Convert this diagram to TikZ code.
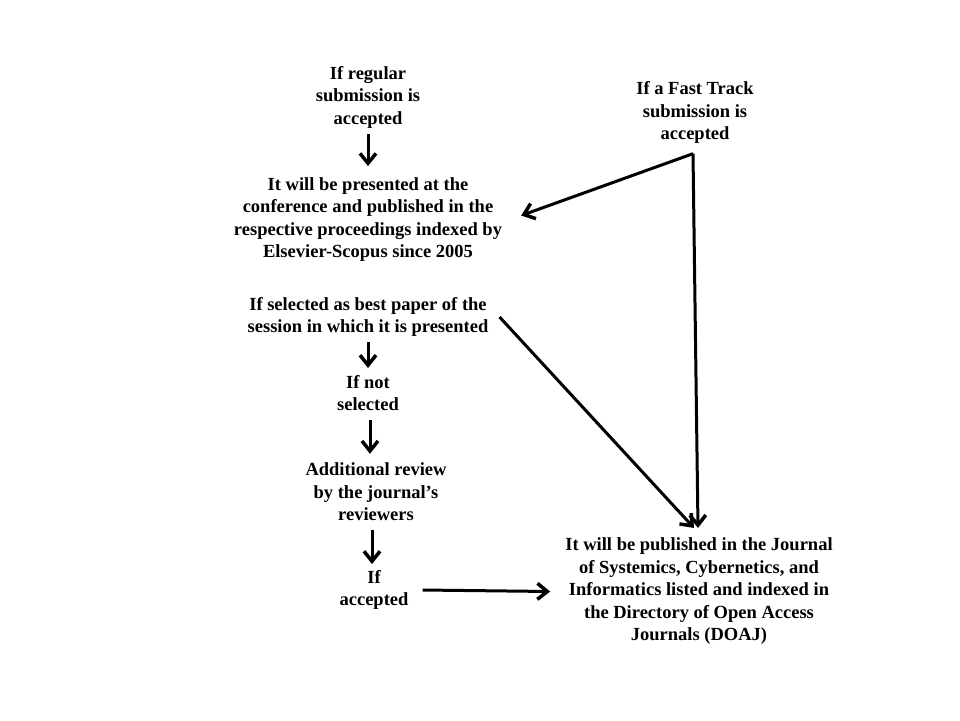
\documentclass[tikz,border=0pt]{standalone}
\usepackage{fontspec}
\setmainfont{Liberation Serif}
\usetikzlibrary{arrows.meta,calc}
\begin{document}
\begin{tikzpicture}[x=1pt,y=-1pt,
  txt/.style={font=\bfseries\fontsize{18.5}{22.5}\selectfont, align=center, inner sep=0pt},
  arr/.style={line width=3pt, -{Straight Barb[length=10pt,width=16pt,line width=3.5pt]}}]
\useasboundingbox[fill=white] (0,0) rectangle (960,720);
\node[txt] (A) at (368,97) {If regular\\submission is\\accepted};
\node[txt] (B) at (368,219.5) {It will be presented at the\\conference and published in the\\respective proceedings indexed by\\Elsevier-Scopus since 2005};
\node[txt] (C) at (368,317) {If selected as best paper of the\\session in which it is presented};
\node[txt] (D) at (368,393) {If not\\selected};
\node[txt] (E) at (376,492) {Additional review\\by the journal’s\\reviewers};
\node[txt] (F) at (374,590) {If\\accepted};
\node[txt] (G) at (695,112.5) {If a Fast Track\\submission is\\accepted};
\node[txt] (H) at (699,591.5) {It will be published in the Journal\\of Systemics, Cybernetics, and\\Informatics listed and indexed in\\the Directory of Open Access\\Journals (DOAJ)};
\coordinate (Gs) at ($(G.south)+(-2,10)$);
\draw[arr] ($(A.south)+(0,6)$) -- ($(B.north)+(0,-11)$);
\draw[arr] ($(C.south)+(0,5)$) -- ($(D.north)+(0,-7)$);
\draw[arr] ($(D.south)+(2,9)$) -- ($(E.north)+(-6,-9)$);
\draw[arr] ($(E.south)+(-4,9)$) -- ($(F.north)+(-2,-6)$);
\draw[arr] (Gs) -- ($(B.east)+(19,-4)$);
\draw[arr] (Gs) -- ($(H.north)+(-1,-10)$);
\draw[arr] ($(C.east)+(11,0)$) -- ($(H.north)+(-5,-10)$);
\draw[arr] ($(F.east)+(14,0)$) -- ($(H.west)+(-15,0)$);
\end{tikzpicture}
\end{document}
